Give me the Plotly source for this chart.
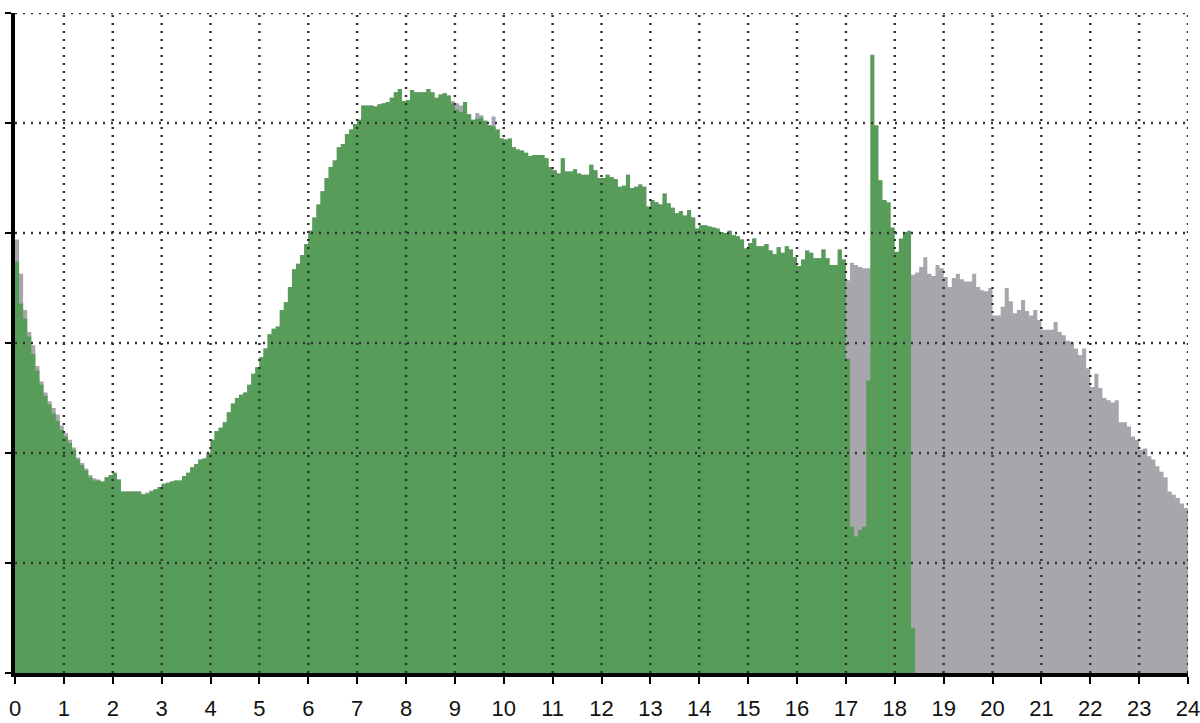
import plotly.graph_objects as go

# 5-minute bins over 24 hours (value units: one grid step = 100)
bin_hours = 1 / 12

green_values = [
    374, 336, 322, 306, 290, 275, 262, 252, 244, 236, 229, 221, 215, 209, 203, 194, 189, 184, 178, 175,
    175, 174, 178, 180, 182, 176, 165, 165, 165, 165, 165, 162, 163, 165, 167, 169, 172, 173, 174, 175,
    175, 179, 182, 187, 190, 194, 195, 200, 212, 220, 223, 228, 237, 245, 250, 253, 255, 262, 272, 278,
    287, 295, 308, 313, 315, 330, 337, 351, 367, 372, 380, 390, 402, 414, 426, 438, 450, 460, 466, 478,
    481, 490, 494, 499, 503, 516, 516, 516, 515, 517, 518, 519, 523, 528, 531, 520, 521, 530, 528, 528,
    528, 531, 528, 523, 526, 527, 525, 518, 512, 510, 519, 508, 503, 504, 505, 502, 498, 497, 494, 486,
    485, 486, 478, 476, 475, 473, 470, 471, 471, 471, 468, 460, 457, 454, 468, 456, 456, 458, 454, 453,
    453, 462, 457, 450, 450, 453, 451, 449, 442, 443, 453, 441, 442, 444, 442, 424, 430, 428, 426, 436,
    427, 423, 418, 420, 416, 421, 414, 404, 407, 407, 406, 405, 404, 401, 400, 402, 398, 397, 394, 386,
    391, 395, 388, 388, 390, 384, 381, 387, 382, 388, 385, 378, 370, 376, 384, 382, 377, 377, 385, 377,
    371, 371, 385, 376, 286, 133, 124, 130, 133, 266, 562, 498, 448, 430, 428, 405, 383, 395, 401, 402,
    41,
]

gray_values = [
    394, 363, 330, 310, 298, 279, 265, 255, 247, 241, 235, 225, 218, 212, 205, 196, 191, 186, 180, 177,
    176, 174, 178, 180, 182, 176, 165, 165, 165, 165, 165, 163, 164, 166, 167, 169, 172, 173, 174, 175,
    175, 179, 182, 187, 190, 194, 195, 200, 212, 220, 223, 228, 237, 245, 250, 253, 255, 262, 272, 278,
    287, 295, 308, 313, 315, 330, 337, 351, 367, 372, 380, 390, 402, 414, 426, 438, 450, 460, 466, 478,
    481, 490, 494, 499, 503, 516, 516, 516, 515, 517, 518, 519, 523, 528, 531, 520, 521, 530, 528, 528,
    528, 531, 528, 523, 526, 527, 525, 520, 518, 516, 519, 508, 503, 509, 507, 502, 498, 506, 494, 486,
    485, 486, 478, 476, 475, 473, 470, 471, 471, 471, 468, 460, 457, 454, 468, 456, 456, 458, 454, 453,
    453, 462, 457, 450, 450, 453, 451, 449, 442, 443, 453, 441, 442, 444, 442, 424, 430, 428, 426, 436,
    427, 423, 418, 420, 416, 421, 414, 404, 407, 407, 406, 405, 404, 401, 400, 402, 398, 397, 394, 386,
    391, 395, 388, 388, 390, 384, 381, 387, 382, 388, 385, 378, 370, 376, 384, 382, 377, 377, 385, 377,
    371, 371, 385, 376, 357, 373, 371, 369, 368, 368, 370, 366, 368, 364, 366, 362, 365, 361, 363, 364,
    362, 364, 369, 378, 363, 361, 371, 368, 360, 351, 359, 363, 358, 356, 356, 363, 351, 348, 347, 350,
    325, 325, 333, 350, 338, 327, 330, 339, 329, 325, 330, 321, 312, 312, 312, 319, 310, 307, 302, 301,
    295, 289, 295, 277, 260, 272, 259, 250, 248, 246, 248, 228, 228, 224, 215, 212, 203, 204, 197, 194,
    188, 183, 178, 165, 162, 159, 154, 150,
]

x_ticks = list(range(0, 25))
y_ticks = list(range(0, 601, 100))


def step_xy(values):
    xs = [i * bin_hours for i in range(len(values) + 1)]
    ys = list(values) + [values[-1]]
    return xs, ys


fig = go.Figure()
gx, gy = step_xy(gray_values)
fig.add_trace(go.Scatter(x=gx, y=gy, mode="lines", line=dict(width=0, shape="hv"),
                         fill="tozeroy", fillcolor="#a8a6ad", hoverinfo="skip", showlegend=False))
vx, vy = step_xy(green_values)
fig.add_trace(go.Scatter(x=vx, y=vy, mode="lines", line=dict(width=0, shape="hv"),
                         fill="tozeroy", fillcolor="#589c59", hoverinfo="skip", showlegend=False))

grid_style = dict(color="#333333", width=2.5, dash="2px,6px")
for t in x_ticks[1:]:
    fig.add_shape(type="line", x0=t, x1=t, y0=0, y1=600, line=grid_style, layer="above")
for t in y_ticks[1:]:
    fig.add_shape(type="line", x0=0, x1=24, y0=t, y1=t, line=grid_style, layer="above")

fig.update_layout(
    width=1200, height=723,
    margin=dict(l=15, r=12, t=13, b=50),
    paper_bgcolor="white", plot_bgcolor="white",
    xaxis=dict(range=[0, 24], tickvals=x_ticks, ticktext=[str(t) for t in x_ticks],
               automargin=False, ticklabeloverflow="allow", ticklabelstandoff=6,
               showgrid=False, zeroline=False, showline=True, linewidth=4, linecolor="black",
               ticks="outside", ticklen=7, tickwidth=2, tickcolor="black",
               tickfont=dict(family="Liberation Sans, Arial, sans-serif", size=22, color="#111")),
    yaxis=dict(range=[0, 600], tickvals=y_ticks, showticklabels=False, automargin=False,
               showgrid=False, zeroline=False, showline=True, linewidth=4, linecolor="black",
               ticks="outside", ticklen=6, tickwidth=2, tickcolor="black"),
)

fig.write_html("out.html", config={"displayModeBar": False},
               post_script="document.body.style.margin='0';document.body.style.overflow='hidden';")
